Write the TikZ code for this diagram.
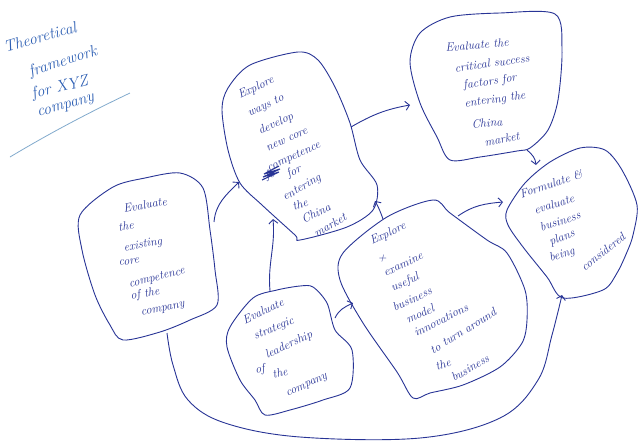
\documentclass[tikz,border=0pt]{standalone}
\usetikzlibrary{arrows.meta}
\definecolor{ink}{RGB}{40,52,150}
\definecolor{titleink}{RGB}{45,95,180}
\definecolor{ruleink}{RGB}{130,170,205}
\begin{document}
\begin{tikzpicture}[x=1pt,y=-1pt,
  blob/.style={draw=ink, line width=0.9pt},
  arr/.style={draw=ink, line width=0.9pt, -{Straight Barb[length=4pt,width=9pt]}},
  tx/.style={text=ink, font=\fontsize{12}{12}\selectfont\itshape, inner sep=0pt},
  ttl/.style={text=titleink, font=\fontsize{16}{16}\selectfont\itshape, inner sep=0pt}]
\fill[white] (0,0) rectangle (640,440);
\useasboundingbox (0,0) rectangle (640,440);

% title
\node[ttl, rotate=16] (t1) at (40,37) {Theoretical};
\node[ttl, rotate=18] (t2) at (63,62) {framework};
\node[ttl, rotate=14] (t3) at (60,88) {for XYZ};
\node[ttl, rotate=16] (t4) at (66,107) {company};
\draw[ruleink, line width=0.8pt] (10,157) .. controls (50,133) and (90,112) .. (130,93);

% blobs
\draw[blob] plot[smooth cycle, tension=0.5] coordinates {(113,187) (145,178) (180,173) (203,188) (210,230) (215,270) (217,305) (190,320) (160,332) (123,340) (110,325) (95,295) (82,250) (80,215)};
\draw[blob] plot[smooth cycle, tension=0.5] coordinates {(228,88) (250,65) (298,52) (318,60) (335,87) (350,123) (360,160) (377,185) (373,210) (347,227) (300,240) (295,235) (262,205) (240,183) (228,150) (222,110)};
\draw[blob] plot[smooth cycle, tension=0.5] coordinates {(420,33) (450,17) (500,13) (555,14) (562,50) (558,100) (548,130) (530,148) (517,151) (480,157) (450,160) (437,137) (420,103) (410,62)};
\draw[blob] plot[smooth cycle, tension=0.5] coordinates {(277,290) (300,286) (313,287) (327,303) (335,330) (352,350) (350,388) (323,400) (290,410) (265,415) (255,400) (240,380) (227,347) (230,327) (253,298)};
\draw[blob] plot[smooth cycle, tension=0.5] coordinates {(343,253) (387,217) (433,200) (450,213) (487,240) (507,253) (525,290) (527,320) (522,343) (500,367) (463,385) (430,393) (413,398) (397,372) (363,323) (340,280)};
\draw[blob] plot[smooth cycle, tension=0.5] coordinates {(507,210) (525,183) (550,162) (580,148) (605,150) (622,170) (637,205) (633,235) (627,252) (617,273) (603,290) (563,298) (547,277) (523,247) (508,225)};

% box A text
\node[tx, rotate=10] (a1) at (145,205) {Evaluate};
\node[tx, rotate=8] (a2) at (126,226) {the};
\node[tx, rotate=10] (a3) at (143,245) {existing};
\node[tx, rotate=8] (a4) at (129,262) {core};
\node[tx, rotate=14] (a5) at (157,278) {competence};
\node[tx, rotate=10] (a6) at (145,294) {of the};
\node[tx, rotate=12] (a7) at (163,310) {company};

% box B text
\node[tx, rotate=25] (b1) at (256,88) {Explore};
\node[tx, rotate=25] (b2) at (266,106) {ways to};
\node[tx, rotate=25] (b3) at (276,124) {develop};
\node[tx, rotate=25] (b4) at (287,140) {new core};
\node[tx, rotate=25] (b5) at (294,157) {competence};
\node[tx, rotate=20] (b6a) at (270,175) {fo};
\draw[ink, line width=1.1pt] (262,180) -- (279,172) -- (263,177) -- (280,169) -- (264,174) -- (279,166);
\node[tx, rotate=25] (b6) at (294,172) {for};
\node[tx, rotate=30] (b7) at (302,188) {entering};
\node[tx, rotate=20] (b8) at (300,204) {the};
\node[tx, rotate=25] (b9) at (316,213) {China};
\node[tx, rotate=30] (b10) at (330,225) {market};

% box C text
\node[tx, rotate=5] (c1) at (477,45) {Evaluate the};
\node[tx, rotate=8] (c2) at (492,63) {critical success};
\node[tx, rotate=8] (c3) at (490,82) {factors for};
\node[tx, rotate=8] (c4) at (495,100) {entering the};
\node[tx, rotate=5] (c5) at (487,123) {China};
\node[tx, rotate=10] (c6) at (502,139) {market};

% box D text
\node[tx, rotate=25] (d1) at (263,311) {Evaluate};
\node[tx, rotate=22] (d2) at (274,329) {strategic};
\node[tx, rotate=25] (d3) at (289,345) {leadership};
\node[tx, rotate=10] (d4) at (260,370) {of};
\node[tx, rotate=15] (d5) at (280,373) {the};
\node[tx, rotate=25] (d6) at (307,386) {company};

% box E text
\node[tx, rotate=25] (e1) at (388,234) {Explore};
\node[tx] (e2) at (382,258) {+};
\node[tx, rotate=25] (e3) at (403,264) {examine};
\node[tx, rotate=25] (e4) at (405,283) {useful};
\node[tx, rotate=25] (e5) at (412,299) {business};
\node[tx, rotate=25] (e6) at (420,314) {model};
\node[tx, rotate=27] (e7) at (441,320) {innovations};
\node[tx, rotate=32] (e8) at (463,331) {to turn around};
\node[tx, rotate=20] (e9) at (443,364) {the};
\node[tx, rotate=30] (e10) at (470,368) {business};

% box F text
\node[tx, rotate=18] (f1) at (551,184) {Formulate \&};
\node[tx, rotate=18] (f2) at (554,204) {evaluate};
\node[tx, rotate=18] (f3) at (560,221) {business};
\node[tx, rotate=22] (f4) at (562,238) {plans};
\node[tx, rotate=18] (f5) at (562,255) {being};
\node[tx, rotate=38] (f6) at (603,252) {considered};

% connector end points
\coordinate (aR) at (214,222);
\coordinate (bL) at (239,182);
\coordinate (dT) at (270,291);
\coordinate (bB) at (273,219);
\coordinate (bR) at (351,127);
\coordinate (cL) at (410,105);
\coordinate (cB) at (527,150);
\coordinate (fT) at (536,165);
\coordinate (eT) at (383,219);
\coordinate (bBR) at (375,201);
\coordinate (dR) at (335,318);
\coordinate (eL) at (353,303);
\coordinate (eTR) at (458,216);
\coordinate (fL) at (503,202);
\coordinate (aB) at (167,333);
\coordinate (fB) at (562,295);

\draw[arr] (aR) to[out=85, in=225] (bL);
\draw[arr] (dT) to[out=95, in=-85] (bB);
\draw[arr] (bR) to[out=30, in=190] (cL);
\draw[arr] (cB) to[out=-40, in=95] (fT);
\draw[arr] (eT) to[out=110, in=-60] (bBR);
\draw[arr] (dR) to[out=65, in=205] (eL);
\draw[arr] (eTR) to[out=35, in=185] (fL);
\draw[arr] plot[smooth, tension=0.6] coordinates {(aB) (173,365) (188,400) (225,423) (300,437) (420,438) (500,418) (538,380) (552,335) (fB)};
\end{tikzpicture}
\end{document}
